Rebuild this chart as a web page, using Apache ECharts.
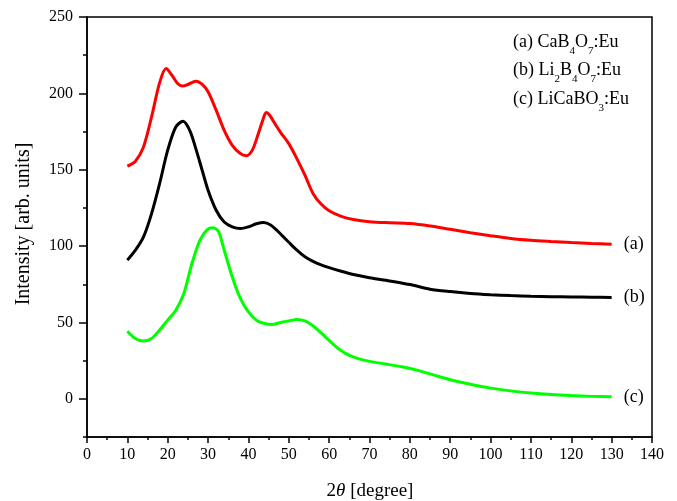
<!DOCTYPE html>
<html>
<head>
<meta charset="utf-8">
<script src="https://cdn.jsdelivr.net/npm/echarts@6/dist/echarts.min.js"></script>
<style>html,body{margin:0;padding:0;background:#fff;}#c{width:677px;height:501px;}</style>
</head>
<body>
<div id="c"></div>
<script>
// (a) CaB4O7:Eu  -- red  (2θ in degree, intensity)
var xA = [10, 12, 14, 16, 18, 19.6, 21, 22.5, 23.8, 25, 27, 28.5, 30, 32, 34, 36, 38, 39.5, 41, 42.5, 43.5, 44.4, 45.3, 46.5, 48, 50, 52, 54, 56, 58, 60, 63, 66, 70, 75, 80, 85, 90, 95, 100, 105, 110, 115, 120, 125, 130];
var yA = [152.3, 155.6, 164.9, 184.6, 207, 216.2, 212, 206.3, 204.8, 205.8, 208, 206, 201, 189, 175.8, 166, 160.6, 159.2, 163, 174, 182, 187.4, 185.5, 180.5, 174.3, 167.1, 157.3, 146.4, 134.5, 127.5, 123.2, 119.5, 117.4, 116, 115.3, 114.8, 113.2, 111, 108.8, 106.8, 105, 103.8, 103, 102.3, 101.7, 101.2];
// (b) Li2B4O7:Eu -- black
var xB = [10, 12, 14, 16, 18, 20, 22, 23.8, 25.5, 27, 28.5, 30, 32, 34, 36, 38, 40, 42, 43.8, 45.5, 47, 48.5, 50, 52, 54, 56, 58, 60, 63, 66, 70, 75, 80, 85, 90, 95, 100, 105, 110, 115, 120, 125, 130];
var yB = [90.8, 97.3, 106, 121.3, 141, 162.8, 178, 181.7, 175.5, 163.5, 150, 136.6, 123.5, 115.8, 112.6, 111.5, 112.6, 114.6, 115.4, 113.8, 110.5, 106.5, 102.5, 97.3, 93, 90, 87.7, 85.9, 83.5, 81.4, 79.3, 77.2, 74.8, 71.8, 70.2, 69, 68.2, 67.6, 67.2, 66.9, 66.7, 66.5, 66.4];
// (c) LiCaBO3:Eu -- green
var xC = [10, 12, 14, 16, 18, 20, 22, 24, 26, 28, 29.8, 31.2, 32.6, 34, 36, 38, 40, 42, 44, 46, 48, 50, 52, 54, 56, 58, 60, 62, 64, 67, 70, 74, 78, 82, 86, 90, 95, 100, 105, 110, 115, 120, 125, 130];
var yC = [44.3, 39.5, 37.8, 39.5, 45, 51.5, 58, 69, 88.6, 103.9, 110.8, 112, 109.5, 97.3, 79.8, 65.7, 56.9, 51.5, 49.3, 48.7, 50, 51, 52, 51, 47.8, 43.2, 38.2, 33.5, 29.8, 26.5, 24.5, 22.8, 21, 18.6, 15.5, 12.5, 9.5, 7, 5.2, 3.8, 2.8, 2.1, 1.6, 1.3];

var seriesNames = ['(a)', '(b)', '(c)'];
var seriesColors = ['#ff0000', '#000000', '#00ff00'];
var yMajorTicks = [0, 50, 100, 150, 200, 250];

function pairs(xs, ys) { return xs.map(function (x, i) { return [x, ys[i]]; }); }

var FONT = 'Liberation Serif';
var chart = echarts.init(document.getElementById('c'));

function mkSeries(name, color, data) {
  return {
    type: 'line', name: name, data: data, smooth: 0.3, symbol: 'none',
    lineStyle: { color: color, width: 3 },
    endLabel: { show: true, formatter: name, color: '#000', fontFamily: FONT, fontSize: 18, distance: 12 },
    xAxisIndex: 0, yAxisIndex: 0
  };
}

chart.setOption({
  animation: false,
  backgroundColor: '#fff',
  grid: { left: 87, right: 25, top: 17, bottom: 64, show: true, borderColor: '#000', borderWidth: 1.5, backgroundColor: 'transparent' },
  xAxis: [{
    type: 'value', min: 0, max: 140, interval: 10,
    axisLine: { show: true, onZero: false, lineStyle: { color: '#000', width: 1.5 } },
    axisTick: { show: true, length: 6, lineStyle: { color: '#000', width: 1.5 } },
    minorTick: { show: true, splitNumber: 2, length: 3, lineStyle: { color: '#000', width: 1.5 } },
    axisLabel: { color: '#000', fontFamily: FONT, fontSize: 16, margin: 10 },
    splitLine: { show: false }
  }],
  yAxis: [{
    type: 'value', min: -25, max: 250,
    axisLine: { show: true, onZero: false, lineStyle: { color: '#000', width: 1.5 } },
    axisTick: { show: true, length: 8, customValues: yMajorTicks, lineStyle: { color: '#000', width: 1.5 } },
    axisLabel: { color: '#000', fontFamily: FONT, fontSize: 16, margin: 14, customValues: yMajorTicks },
    splitLine: { show: false }
  }, {
    type: 'value', min: -25, max: 250, interval: 25, position: 'left', offset: 0,
    axisLine: { show: false },
    axisTick: { show: true, length: 4, lineStyle: { color: '#000', width: 1.5 } },
    axisLabel: { show: false },
    splitLine: { show: false }
  }],
  series: [
    mkSeries(seriesNames[0], seriesColors[0], pairs(xA, yA)),
    mkSeries(seriesNames[1], seriesColors[1], pairs(xB, yB)),
    mkSeries(seriesNames[2], seriesColors[2], pairs(xC, yC))
  ],
  graphic: [
    {
      type: 'text', x: 24, y: 224, rotation: Math.PI / 2,
      style: { text: 'Intensity [arb. units]', fontFamily: FONT, fontSize: 20, fill: '#000', align: 'center', verticalAlign: 'middle' }
    },
    {
      type: 'text', x: 370, y: 491,
      style: {
        text: '{n|2}{i|θ}{n| [degree]}', align: 'center', verticalAlign: 'middle',
        rich: {
          n: { fontFamily: FONT, fontSize: 19, fill: '#000' },
          i: { fontFamily: FONT, fontSize: 19, fontStyle: 'italic', fill: '#000' }
        }
      }
    },
    {
      type: 'text', left: 513, top: 28,
      style: {
        text: '{n|(a) CaB}{s|4}{n|O}{s|7}{n|:Eu}\n{n|(b) Li}{s|2}{n|B}{s|4}{n|O}{s|7}{n|:Eu}\n{n|(c) LiCaBO}{s|3}{n|:Eu}',
        rich: {
          n: { fontFamily: FONT, fontSize: 18, fill: '#000', lineHeight: 28.5, verticalAlign: 'bottom', height: 28.5 },
          s: { fontFamily: FONT, fontSize: 11, fill: '#000', lineHeight: 9, verticalAlign: 'bottom' }
        }
      }
    }
  ]
});
</script>
</body>
</html>
